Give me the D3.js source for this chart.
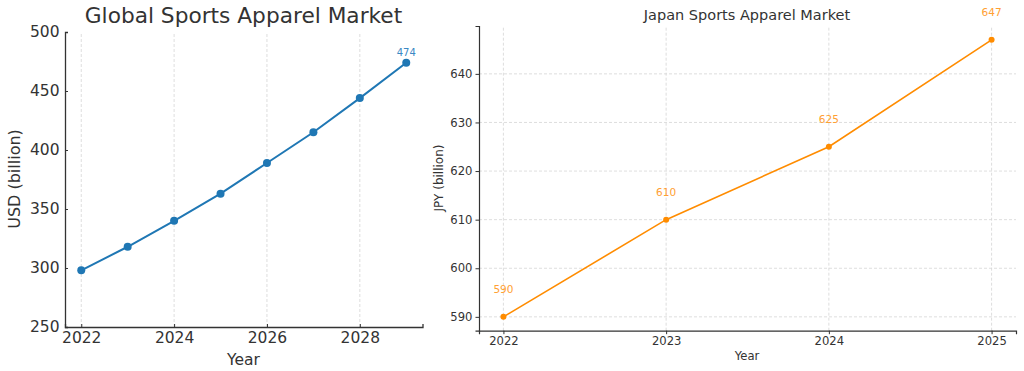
<!DOCTYPE html>
<html>
<head>
<meta charset="utf-8">
<script src="https://cdn.jsdelivr.net/npm/d3@7"></script>
<style>
  body { margin: 0; background: #fff; }
  svg, svg text { font-family: "DejaVu Sans", sans-serif; }
  svg { display: block; }
  .tick text { fill: #333; }
  .domain, .tick line { stroke: #333; }
</style>
</head>
<body>
<script>
const globalYears = [2022, 2023, 2024, 2025, 2026, 2027, 2028, 2029];
const globalValues = [298, 318, 340, 363, 389, 415, 444, 474];
const globalTicksX = [2022, 2024, 2026, 2028];
const globalTicksY = [250, 300, 350, 400, 450, 500];

const japanYears = [2022, 2023, 2024, 2025];
const japanValues = [590, 610, 625, 647];
const japanTicksY = [590, 600, 610, 620, 630, 640];

const width = 1024;
const height = 371;
const textColor = '#333';

const svg = d3.select('body')
    .append('svg')
    .attr('width', width)
    .attr('height', height);

// ---- left: global market ----
const gx = d3.scaleLinear().domain([2021.65, 2029.35]).range([65, 422.5]);
const gy = d3.scaleLinear().domain([250, 500]).range([327, 32]);

const left = svg.append('g');

left.append('g')
    .selectAll('line')
    .data(globalTicksX)
    .enter()
    .append('line')
    .attr('x1', d => gx(d))
    .attr('x2', d => gx(d))
    .attr('y1', gy(250))
    .attr('y2', gy(500))
    .attr('stroke', '#d5d5d5')
    .attr('stroke-width', 0.8)
    .attr('stroke-dasharray', '3,2');

// ticks point inward on this panel
left.append('g')
    .attr('transform', `translate(0,${gy(250)})`)
    .call(d3.axisBottom(gx).tickValues(globalTicksX).tickFormat(d3.format('d')).tickSize(-3).tickPadding(5))
    .call(g => g.selectAll('text').style('font-size', '15.5px'))
    .call(g => g.select('.domain').attr('stroke-width', 1.3));

left.append('g')
    .attr('transform', `translate(${gx.range()[0]},0)`)
    .call(d3.axisLeft(gy).tickValues(globalTicksY).tickSize(-3).tickPadding(5.5))
    .call(g => g.selectAll('text').style('font-size', '15.5px'))
    .call(g => g.select('.domain').attr('stroke-width', 1.3));

left.append('path')
    .datum(globalValues)
    .attr('fill', 'none')
    .attr('stroke', '#1f77b4')
    .attr('stroke-width', 2)
    .attr('d', d3.line().x((d, i) => gx(globalYears[i])).y(d => gy(d)));

left.selectAll('circle')
    .data(globalValues)
    .enter()
    .append('circle')
    .attr('cx', (d, i) => gx(globalYears[i]))
    .attr('cy', d => gy(d))
    .attr('r', 4)
    .attr('fill', '#1f77b4');

const lastG = globalValues.length - 1;
left.append('text')
    .attr('x', gx(globalYears[lastG]))
    .attr('y', gy(globalValues[lastG]) - 7)
    .attr('text-anchor', 'middle')
    .attr('fill', '#3a88c4')
    .style('font-size', '10px')
    .text(globalValues[lastG]);

left.append('text')
    .attr('x', 243.5)
    .attr('y', 23)
    .attr('text-anchor', 'middle')
    .attr('fill', textColor)
    .style('font-size', '21.7px')
    .text('Global Sports Apparel Market');

left.append('text')
    .attr('x', 243.5)
    .attr('y', 365)
    .attr('text-anchor', 'middle')
    .attr('fill', textColor)
    .style('font-size', '15.5px')
    .text('Year');

left.append('text')
    .attr('transform', 'translate(20,179) rotate(-90)')
    .attr('text-anchor', 'middle')
    .attr('fill', textColor)
    .style('font-size', '16px')
    .text('USD (billion)');

// ---- right: japan market ----
const jx = d3.scaleLinear().domain([2021.85, 2025.15]).range([479, 1016]);
const jy = d3.scaleLinear().domain([587.15, 649.85]).range([330.7, 26]);

const right = svg.append('g');

right.append('g')
    .selectAll('line')
    .data(japanYears)
    .enter()
    .append('line')
    .attr('x1', d => jx(d))
    .attr('x2', d => jx(d))
    .attr('y1', jy.range()[0])
    .attr('y2', jy.range()[1])
    .attr('stroke', '#d5d5d5')
    .attr('stroke-width', 0.8)
    .attr('stroke-dasharray', '3,2');

right.append('g')
    .selectAll('line')
    .data(japanTicksY)
    .enter()
    .append('line')
    .attr('x1', jx.range()[0])
    .attr('x2', jx.range()[1])
    .attr('y1', d => jy(d))
    .attr('y2', d => jy(d))
    .attr('stroke', '#d5d5d5')
    .attr('stroke-width', 0.8)
    .attr('stroke-dasharray', '3,2');

right.append('g')
    .attr('transform', `translate(0,${jy.range()[0]})`)
    .call(d3.axisBottom(jx).tickValues(japanYears).tickFormat(d3.format('d')).tickSize(3.5).tickPadding(3))
    .call(g => g.selectAll('text').style('font-size', '11.6px'))
    .call(g => g.select('.domain').attr('stroke-width', 1.2));

right.append('g')
    .attr('transform', `translate(${jx.range()[0]},0)`)
    .call(d3.axisLeft(jy).tickValues(japanTicksY).tickSize(3.5).tickPadding(3))
    .call(g => g.selectAll('text').style('font-size', '11.6px'))
    .call(g => g.select('.domain').attr('stroke-width', 1.2));

right.append('path')
    .datum(japanValues)
    .attr('fill', 'none')
    .attr('stroke', '#ff8c00')
    .attr('stroke-width', 1.6)
    .attr('d', d3.line().x((d, i) => jx(japanYears[i])).y(d => jy(d)));

right.selectAll('circle')
    .data(japanValues)
    .enter()
    .append('circle')
    .attr('cx', (d, i) => jx(japanYears[i]))
    .attr('cy', d => jy(d))
    .attr('r', 3)
    .attr('fill', '#ff8c00');

right.selectAll('text.value')
    .data(japanValues)
    .enter()
    .append('text')
    .attr('class', 'value')
    .attr('x', (d, i) => jx(japanYears[i]))
    .attr('y', d => jy(d) - 24)
    .attr('text-anchor', 'middle')
    .attr('fill', '#ffa033')
    .style('font-size', '10.5px')
    .text(d => d);

right.append('text')
    .attr('x', 747)
    .attr('y', 20)
    .attr('text-anchor', 'middle')
    .attr('fill', textColor)
    .style('font-size', '14.5px')
    .text('Japan Sports Apparel Market');

right.append('text')
    .attr('x', 747)
    .attr('y', 360)
    .attr('text-anchor', 'middle')
    .attr('fill', textColor)
    .style('font-size', '11.6px')
    .text('Year');

right.append('text')
    .attr('transform', 'translate(443,178) rotate(-90)')
    .attr('text-anchor', 'middle')
    .attr('fill', textColor)
    .style('font-size', '12px')
    .text('JPY (billion)');
</script>
</body>
</html>
